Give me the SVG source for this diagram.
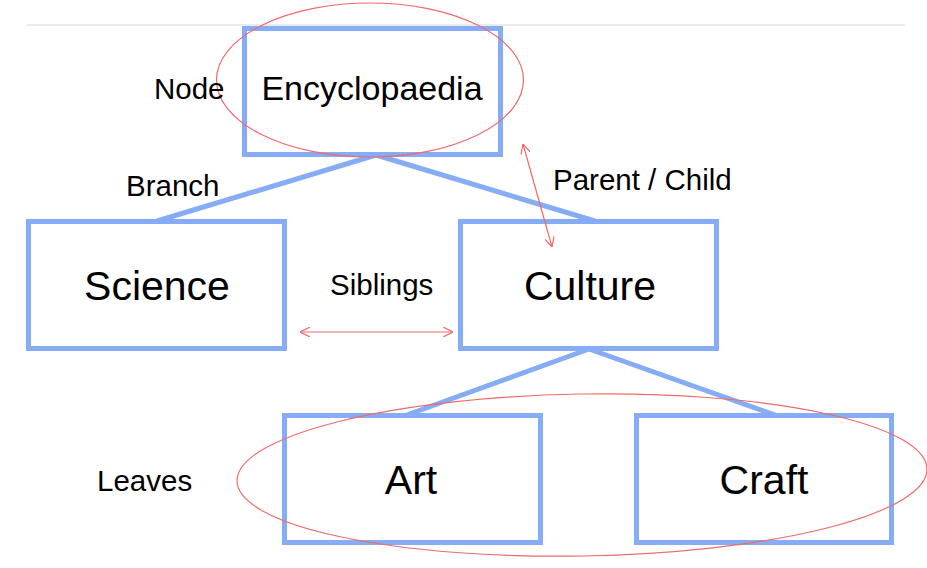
<svg xmlns="http://www.w3.org/2000/svg" width="927" height="568" viewBox="0 0 927 568">
<style>
.box{fill:#ffffff;stroke:#85acf4;stroke-width:5}
.edge{stroke:#85acf4;stroke-width:5;fill:none}
.big{font-family:"Liberation Sans",Arial,sans-serif;font-size:41px;fill:#000;text-anchor:middle}
.enc{font-family:"Liberation Sans",Arial,sans-serif;font-size:34px;fill:#000;text-anchor:middle}
.lbl{font-family:"Liberation Sans",Arial,sans-serif;font-size:29.5px;fill:#000}
.ann{fill:none;stroke:#f06a6a;stroke-width:1.2}
</style>
<defs>
<marker id="ah" viewBox="0 0 10 10" refX="10" refY="5" markerWidth="10" markerHeight="10" markerUnits="userSpaceOnUse" orient="auto-start-reverse">
<path d="M0,0 L10,5 L0,10" fill="none" stroke="#f06a6a" stroke-width="1.2"/>
</marker>
</defs>
<rect width="927" height="568" fill="#ffffff"/>
<line x1="27" y1="25" x2="905" y2="25" stroke="#ebebeb" stroke-width="2"/>
<g id="connectors">
<line class="edge" x1="376" y1="155" x2="157" y2="221"/>
<line class="edge" x1="376" y1="155" x2="595" y2="221"/>
<line class="edge" x1="589" y1="349" x2="404" y2="416"/>
<line class="edge" x1="589" y1="349" x2="778" y2="416"/>
</g>
<g id="node-encyclopaedia">
<rect class="box" x="244.5" y="28.5" width="256" height="126"/>
<text class="enc" x="372" y="100">Encyclopaedia</text>
</g>
<g id="node-science">
<rect class="box" x="28.5" y="221.5" width="256" height="127"/>
<text class="big" x="157" y="300">Science</text>
</g>
<g id="node-culture">
<rect class="box" x="460.5" y="221.5" width="256" height="127"/>
<text class="big" x="590" y="300">Culture</text>
</g>
<g id="node-art">
<rect class="box" x="284.5" y="415.5" width="256" height="127"/>
<text class="big" x="411" y="494">Art</text>
</g>
<g id="node-craft">
<rect class="box" x="636.5" y="415.5" width="255" height="127"/>
<text class="big" x="764" y="494">Craft</text>
</g>
<g id="annotations">
<ellipse class="ann" cx="370" cy="80" rx="153.5" ry="77"/>
<ellipse class="ann" cx="582" cy="475" rx="345" ry="81" transform="rotate(-1 582 475)"/>
<line class="ann" x1="300" y1="332" x2="453" y2="332" marker-start="url(#ah)" marker-end="url(#ah)"/>
<line class="ann" x1="523" y1="144" x2="552" y2="247" marker-start="url(#ah)" marker-end="url(#ah)"/>
<text class="lbl" x="154" y="99">Node</text>
<text class="lbl" x="126" y="196">Branch</text>
<text class="lbl" x="553" y="190">Parent / Child</text>
<text class="lbl" x="330" y="295">Siblings</text>
<text class="lbl" x="97" y="491">Leaves</text>
</g>
</svg>
